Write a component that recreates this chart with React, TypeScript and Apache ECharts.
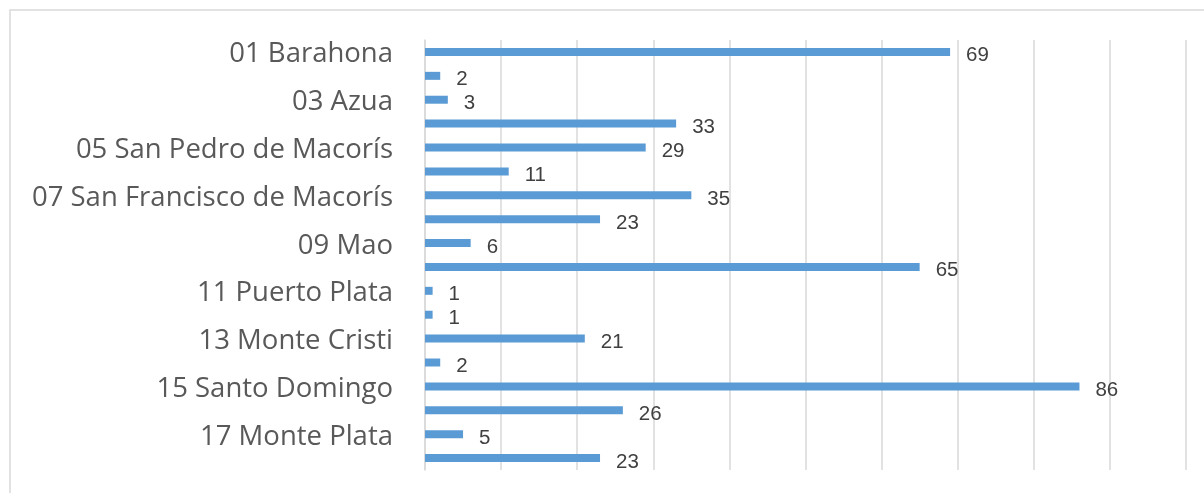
import React, { useEffect, useRef } from "react";
import * as echarts from "echarts";

const categories = [
  "01 Barahona",
  "02 San Juan de la Maguana",
  "03 Azua",
  "04 San Cristóbal",
  "05 San Pedro de Macorís",
  "06 La Vega",
  "07 San Francisco de Macorís",
  "08 Santiago",
  "09 Mao",
  "10 Santo Domingo II",
  "11 Puerto Plata",
  "12 Higüey",
  "13 Monte Cristi",
  "14 Nagua",
  "15 Santo Domingo",
  "16 Cotuí",
  "17 Monte Plata",
  "18 Neyba",
];
const values = [69, 2, 3, 33, 29, 11, 35, 23, 6, 65, 1, 1, 21, 2, 86, 26, 5, 23];

export default function App() {
  const ref = useRef<HTMLDivElement>(null);
  useEffect(() => {
    if (!ref.current) return;
    const chart = echarts.init(ref.current, undefined, { renderer: "svg" });
    chart.setOption({
      animation: false,
      textStyle: { fontFamily: "Open Sans" },
      graphic: [
        {
          type: "rect",
          shape: { x: 10, y: 10, width: 1210, height: 520 },
          style: { fill: "none", stroke: "#d9d9d9", lineWidth: 1.5 },
          silent: true,
        },
      ],
      grid: { left: 425, right: 18, top: 40, bottom: 23, containLabel: false },
      xAxis: {
        type: "value",
        min: 0,
        max: 100,
        interval: 10,
        axisLabel: { show: false },
        axisLine: { show: false },
        axisTick: { show: false },
        splitLine: { show: true, lineStyle: { color: "#d9d9d9", width: 1.5 } },
      },
      yAxis: {
        type: "category",
        inverse: true,
        data: categories,
        axisTick: { show: false },
        axisLine: { show: true, lineStyle: { color: "#d9d9d9", width: 1.5 } },
        axisLabel: {
          interval: 1,
          margin: 32,
          fontSize: 27.5,
          color: "#595959",
          fontFamily: "Open Sans",
        },
      },
      series: [
        {
          type: "bar",
          data: values,
          barWidth: 8,
          itemStyle: { color: "#5b9bd5" },
          label: {
            show: true,
            position: "right",
            distance: 16,
            offset: [0, 2],
            fontSize: 20.5,
            lineHeight: 20,
            color: "#404040",
            fontFamily: "Liberation Sans",
          },
        },
      ],
    });
    return () => chart.dispose();
  }, []);
  return (
    <div
      ref={ref}
      style={{ position: "fixed", left: 0, top: 0, width: 1204, height: 493 }}
    />
  );
}
